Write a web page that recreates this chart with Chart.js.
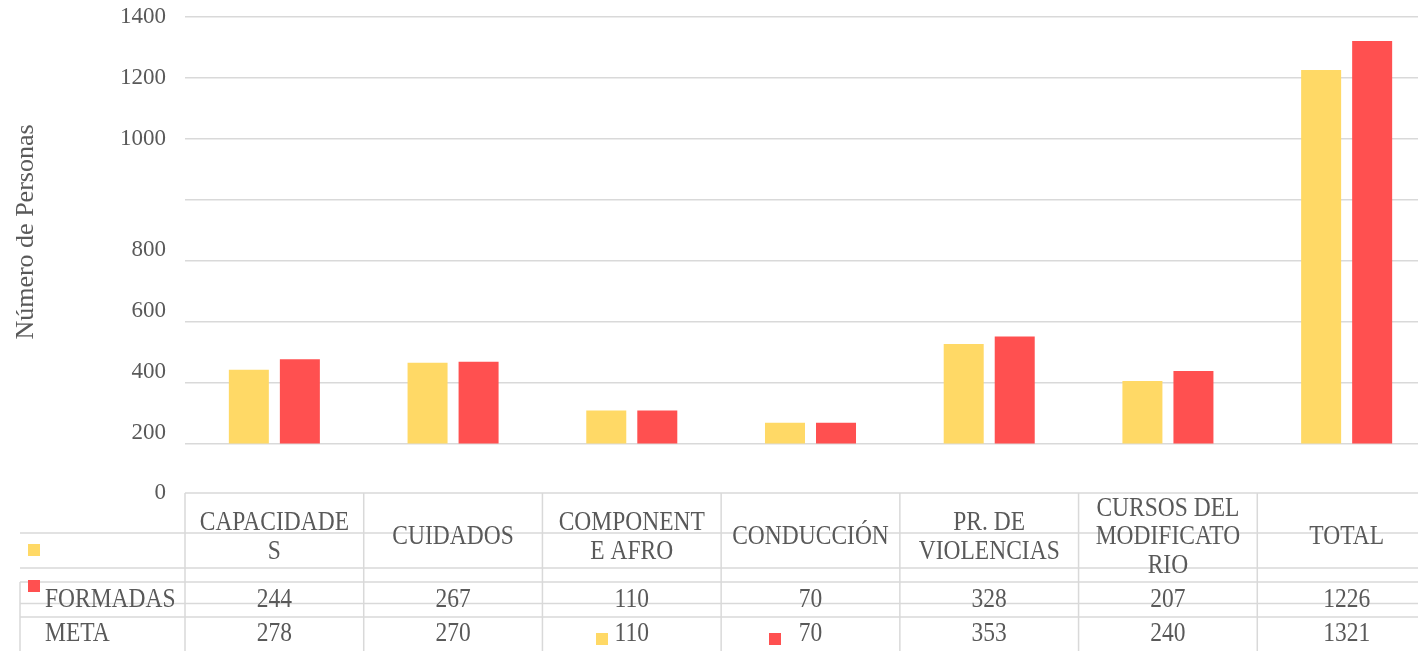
<!DOCTYPE html>
<html>
<head>
<meta charset="utf-8">
<script src="https://cdn.jsdelivr.net/npm/chart.js@4.4.1/dist/chart.umd.min.js"></script>
<style>
  html, body { margin: 0; padding: 0; background: #ffffff; overflow: hidden; }
  #wrap { position: relative; width: 1440px; height: 651px; }
</style>
</head>
<body>
<div id="wrap"><canvas id="c"></canvas></div>
<script>
// ---- data ----
const categories = [['CAPACIDADE', 'S'], ['CUIDADOS'], ['COMPONENT', 'E AFRO'], ['CONDUCCIÓN'], ['PR. DE', 'VIOLENCIAS'], ['CURSOS DEL', 'MODIFICATO', 'RIO'], ['TOTAL']];
const seriesNames = ['FORMADAS', 'META'];
const formadas = [244, 267, 110, 70, 328, 207, 1226];
const meta = [278, 270, 110, 70, 353, 240, 1321];
const yGridValues = [0, 200, 400, 600, 800, 1000, 1200, 1400];
const yTickLabels = ['0', '200', '400', '600', '800', '1000', '1200', '1400'];
const axisTitle = 'Número de Personas';

// ---- styles / layout ----
const YELLOW = '#FFD966';
const RED = '#FF5050';
const GRID = '#D9D9D9';
const TEXT = '#595959';
const FONT_FAMILY = '"Liberation Serif", "Times New Roman", serif';
// where each y tick label sits on the value scale (the original renders them displaced)
const yLabelAnchors = [-160, 36, 236, 436, 636, 1000, 1200, 1400];

function stretchedText(ctx, s, x, y, align) {
  ctx.save();
  ctx.translate(x, y);
  ctx.scale(1, 1.12);
  ctx.textAlign = align;
  ctx.textBaseline = 'middle';
  ctx.fillText(s, 0, 0);
  ctx.restore();
}

const tablePlugin = {
  id: 'dataTable',
  afterDraw(chart) {
    const ctx = chart.ctx;
    const xs = chart.scales.x;
    const n = categories.length;
    const step = xs.getPixelForValue(1) - xs.getPixelForValue(0);
    const left0 = xs.getPixelForValue(0) - step / 2;
    const rightEdge = chart.width;
    const top = chart.chartArea.bottom;

    ctx.save();
    ctx.strokeStyle = GRID;
    ctx.lineWidth = 1.5;
    const hline = (x1, y, x2) => { ctx.beginPath(); ctx.moveTo(x1, y); ctx.lineTo(x2, y); ctx.stroke(); };
    const vline = (x, y1, y2) => { ctx.beginPath(); ctx.moveTo(x, y1); ctx.lineTo(x, y2); ctx.stroke(); };
    hline(left0, top, rightEdge);
    [533, 568, 582, 603.5, 617].forEach(y => hline(20, y, rightEdge));
    for (let k = 0; k < n; k++) vline(left0 + k * step, top, 651);
    vline(20, 582, 651);

    // axis title
    ctx.fillStyle = TEXT;
    ctx.font = '26px ' + FONT_FAMILY;
    ctx.save();
    ctx.translate(33, 232);
    ctx.rotate(-Math.PI / 2);
    ctx.textAlign = 'center';
    ctx.textBaseline = 'alphabetic';
    ctx.fillText(axisTitle, 0, 0);
    ctx.restore();

    // header labels
    ctx.font = '23.5px ' + FONT_FAMILY;
    const lh = 28.5;
    categories.forEach((lines, i) => {
      const cx = xs.getPixelForValue(i);
      const y0 = 537.5 - (lines.length - 1) * lh / 2;
      lines.forEach((ln, j) => stretchedText(ctx, ln, cx, y0 + j * lh, 'center'));
    });
    // row labels
    stretchedText(ctx, seriesNames[0], 45, 600, 'left');
    stretchedText(ctx, seriesNames[1], 45, 634, 'left');
    // values
    formadas.forEach((v, i) => stretchedText(ctx, String(v), xs.getPixelForValue(i), 600.5, 'center'));
    meta.forEach((v, i) => stretchedText(ctx, String(v), xs.getPixelForValue(i), 634.5, 'center'));

    // legend keys (as placed in the original)
    ctx.fillStyle = YELLOW; ctx.fillRect(28, 544, 12, 12);
    ctx.fillStyle = RED; ctx.fillRect(28, 580, 12, 12);
    ctx.fillStyle = YELLOW; ctx.fillRect(596, 633, 12, 12);
    ctx.fillStyle = RED; ctx.fillRect(769, 633, 12, 12);
    ctx.restore();
  }
};

new Chart(document.getElementById('c'), {
  type: 'bar',
  data: {
    labels: categories,
    datasets: [
      { label: seriesNames[0], data: formadas, backgroundColor: YELLOW, categoryPercentage: 0.571, barPercentage: 0.784 },
      { label: seriesNames[1], data: meta, backgroundColor: RED, categoryPercentage: 0.571, barPercentage: 0.784 }
    ]
  },
  options: {
    responsive: true,
    maintainAspectRatio: false,
    animation: false,
    layout: { padding: { left: 0, top: 17, right: 4, bottom: 158 } },
    plugins: { legend: { display: false }, tooltip: { enabled: false } },
    scales: {
      x: { display: false },
      y: {
        position: 'left',
        min: -160, max: 1400,
        afterBuildTicks: s => { s.ticks = yGridValues.map(v => ({ value: v })); },
        afterFit: s => { s.width = 0; s.paddingTop = 0; s.paddingBottom = 0; },
        ticks: { display: false },
        border: { display: false },
        grid: { color: GRID, lineWidth: 1.5, drawTicks: false }
      },
      yl: {
        position: 'left',
        min: -160, max: 1400,
        afterBuildTicks: s => { s.ticks = yLabelAnchors.map(v => ({ value: v })); },
        afterFit: s => { s.width = 185; s.paddingTop = 0; s.paddingBottom = 0; },
        ticks: {
          autoSkip: false,
          padding: 19,
          color: TEXT,
          font: { family: FONT_FAMILY, size: 23 },
          callback: (v, i) => yTickLabels[i]
        },
        border: { display: false },
        grid: { display: false, drawTicks: false }
      }
    }
  },
  plugins: [tablePlugin]
});
</script>
</body>
</html>
